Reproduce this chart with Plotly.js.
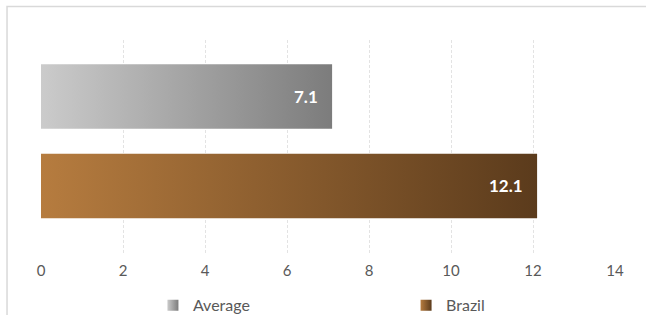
<!DOCTYPE html>
<html>
<head>
<meta charset="utf-8">
<script src="https://cdn.plot.ly/plotly-3.0.1.min.js"></script>
<style>html,body{margin:0;padding:0;background:#fff;}#chart{width:646px;height:315px;}</style>
</head>
<body>
<div id="chart"></div>
<script>
const categories = ["Average", "Brazil"];
const values = [7.1, 12.1];
const rowPositions = [1, 0];
const gradientStarts = ["#cbcbcb", "#b67c3f"];
const gradientEnds = ["#7c7c7c", "#5b3b1c"];
const tickValues = [0, 2, 4, 6, 8, 10, 12, 14];
const legendIds = ["legend", "legend2"];
const legendX = [0.195, 0.636];

const barHalf = 0.36;
const font = "Lato, 'Open Sans', sans-serif";

const traces = [];
categories.forEach((c, i) => {
  const v = values[i], p = rowPositions[i];
  traces.push({
    type: "scatter", mode: "none", name: c, showlegend: false, hoverinfo: "skip",
    x: [0, v, v, 0, 0],
    y: [p - barHalf, p - barHalf, p + barHalf, p + barHalf, p - barHalf],
    fill: "toself",
    fillgradient: {type: "horizontal", colorscale: [[0, gradientStarts[i]], [1, gradientEnds[i]]]}
  });
});
categories.forEach((c, i) => {
  traces.push({
    type: "scatter", mode: "markers", name: c, x: [null], y: [null], showlegend: true,
    legend: legendIds[i],
    marker: {symbol: "square", size: 11, color: gradientStarts[i],
             gradient: {type: "horizontal", color: gradientEnds[i]}}
  });
});

const annotations = categories.map((c, i) => ({
  x: values[i], y: rowPositions[i], xref: "x", yref: "y",
  text: "<b>" + values[i].toFixed(1) + "</b>", showarrow: false,
  xanchor: "right", xshift: -12,
  font: {family: font, size: 17, color: "#ffffff"}
}));

const legendBase = (x) => ({orientation: "h", x: x, xanchor: "left", y: -0.155, yanchor: "top",
  font: {family: font, size: 16, color: "#595959"}, itemwidth: 30, bgcolor: "rgba(0,0,0,0)"});

const layout = {
  width: 646, height: 315,
  margin: {l: 41, r: 31, t: 40, b: 60, autoexpand: false},
  paper_bgcolor: "#ffffff", plot_bgcolor: "#ffffff",
  showlegend: true,
  legend: legendBase(legendX[0]),
  legend2: legendBase(legendX[1]),
  xaxis: {range: [0, 14], tickvals: tickValues, showgrid: true, gridcolor: "#e3e3e3",
          griddash: "3px,2px", gridwidth: 1, zeroline: false, showline: false,
          ticklabelstandoff: 5,
          tickfont: {family: font, size: 15, color: "#595959"}, fixedrange: true},
  yaxis: {range: [-0.771, 1.631], showgrid: false, zeroline: false, showline: false,
          showticklabels: false, fixedrange: true},
  shapes: [{type: "rect", xref: "paper", yref: "paper",
            x0: -0.0592, x1: 1.3, y0: -0.6, y1: 1.156,
            line: {color: "#d9d9d9", width: 1.5}, fillcolor: "rgba(0,0,0,0)", layer: "below"}],
  annotations: annotations
};

Plotly.newPlot("chart", traces, layout, {displayModeBar: false, staticPlot: true});
</script>
</body>
</html>
